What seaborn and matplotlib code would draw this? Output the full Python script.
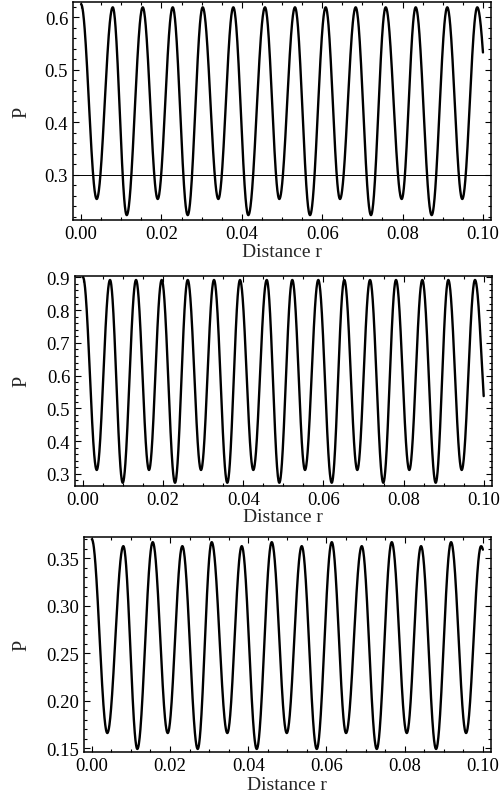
import numpy as np
import pandas as pd
import matplotlib
matplotlib.use("Agg")
import matplotlib.pyplot as plt
from matplotlib.ticker import MultipleLocator, FormatStrFormatter
import seaborn as sns

# ---------------- data (extrema of each curve) ----------------
# Panel 1
p1_peak_x = [0.0, 0.00789, 0.01535, 0.02281, 0.03027, 0.03789, 0.04577, 0.05323,
             0.06087, 0.06833, 0.07580, 0.08326, 0.09112, 0.09858]
p1_peak_y = [0.625] + [0.619] * 13
p1_trough_x = [0.00390, 0.01137, 0.01908, 0.02654, 0.03416, 0.04162, 0.04933,
               0.05697, 0.06443, 0.07214, 0.07978, 0.08724, 0.09485]
p1_trough_y = [0.2537, 0.223, 0.2537, 0.223, 0.2537, 0.223, 0.2537,
               0.223, 0.2537, 0.223, 0.2537, 0.223, 0.2537]
p1_end = (0.1, 0.533)

# Panel 2
p2_peak_x = [0.0, 0.00674, 0.01323, 0.01964, 0.02613, 0.03269, 0.03918, 0.04585,
             0.05223, 0.05872, 0.06521, 0.07163, 0.07811, 0.08468, 0.09117, 0.09783]
p2_peak_y = [0.900] + [0.892] * 15
p2_trough_x = [0.00342, 0.00991, 0.01647, 0.02296, 0.02945, 0.03601, 0.04250,
               0.04899, 0.05540, 0.06207, 0.06845, 0.07494, 0.08143, 0.08802, 0.09451]
p2_trough_y = [0.312, 0.273, 0.312, 0.273, 0.312, 0.273, 0.312,
               0.273, 0.312, 0.273, 0.312, 0.273, 0.312, 0.273, 0.312]
p2_end = (0.1, 0.5375)

# Panel 3
p3_peak_x = [0.0, 0.00806, 0.01558, 0.02315, 0.03066, 0.03834, 0.04601, 0.05368,
             0.06136, 0.06903, 0.07670, 0.08419, 0.09187, 0.09954]
p3_peak_y = [0.370, 0.3627, 0.3669, 0.3627, 0.3669, 0.3627, 0.3669, 0.3627,
             0.3669, 0.3627, 0.3669, 0.3627, 0.3669, 0.3627]
p3_trough_x = [0.00396, 0.01164, 0.01941, 0.02708, 0.03465, 0.04217, 0.04985,
               0.05752, 0.06501, 0.07286, 0.08054, 0.08803, 0.09570]
p3_trough_y = [0.1658, 0.149, 0.1658, 0.149, 0.1658, 0.149, 0.1658,
               0.149, 0.1658, 0.149, 0.1658, 0.149, 0.1658]
p3_end = (0.1, 0.359)

x_ticks_major = 0.02
x_ticks_minor = 0.005


def build_curve(px, py, tx, ty, end):
    kx = np.array(list(px) + list(tx))
    ky = np.array(list(py) + list(ty))
    order = np.argsort(kx)
    kx, ky = kx[order], ky[order]
    half = np.median(np.diff(kx))
    xs, ys = [], []
    for i in range(len(kx) - 1):
        t = np.linspace(0, 1, 60, endpoint=False)
        xs.append(kx[i] + (kx[i + 1] - kx[i]) * t)
        ys.append(ky[i] + (ky[i + 1] - ky[i]) * (1 - np.cos(np.pi * t)) / 2)
    # last partial segment to the end point
    s_end = min((end[0] - kx[-1]) / half, 1.0)
    t = np.linspace(0, 1, 40)
    f = (1 - np.cos(np.pi * s_end * t)) / (1 - np.cos(np.pi * s_end))
    xs.append(kx[-1] + (end[0] - kx[-1]) * t)
    ys.append(ky[-1] + (end[1] - ky[-1]) * f)
    return pd.DataFrame({"r": np.concatenate(xs), "P": np.concatenate(ys)})


sns.set_style("ticks")
plt.rcParams["font.family"] = ["Liberation Serif", "DejaVu Serif"]

fig = plt.figure(figsize=(5.02, 8.03), dpi=100)

panels = [
    dict(rect=[0.1454, 0.7248, 0.8327, 0.2711], data=(p1_peak_x, p1_peak_y, p1_trough_x, p1_trough_y, p1_end),
         ylim=(0.2137, 0.6286), ymaj=0.1, ymin=0.02, fmt="%.1f", ylab_x=-0.1227, xlab_y=-0.145, hline=0.3),
    dict(rect=[0.1494, 0.3939, 0.8301, 0.2615], data=(p2_peak_x, p2_peak_y, p2_trough_x, p2_trough_y, p2_end),
         ylim=(0.264, 0.905), ymaj=0.1, ymin=0.02, fmt="%.1f", ylab_x=-0.128, xlab_y=-0.145, hline=None),
    dict(rect=[0.1673, 0.0619, 0.8102, 0.2677], data=(p3_peak_x, p3_peak_y, p3_trough_x, p3_trough_y, p3_end),
         ylim=(0.1455, 0.372), ymaj=0.05, ymin=0.01, fmt="%.2f", ylab_x=-0.153, xlab_y=-0.152, hline=None),
]

for p in panels:
    ax = fig.add_axes(p["rect"])
    df = build_curve(*p["data"])
    sns.lineplot(data=df, x="r", y="P", ax=ax, color="black", linewidth=1.7,
                 estimator=None, sort=False)
    if p["hline"] is not None:
        ax.axhline(p["hline"], color="black", linewidth=0.7, zorder=1)
    ax.set_xlim(-0.002, 0.102)
    ax.set_ylim(*p["ylim"])
    ax.xaxis.set_major_locator(MultipleLocator(x_ticks_major))
    ax.xaxis.set_minor_locator(MultipleLocator(x_ticks_minor))
    ax.yaxis.set_major_locator(MultipleLocator(p["ymaj"]))
    ax.yaxis.set_minor_locator(MultipleLocator(p["ymin"]))
    ax.xaxis.set_major_formatter(FormatStrFormatter("%.2f"))
    ax.yaxis.set_major_formatter(FormatStrFormatter(p["fmt"]))
    ax.tick_params(which="both", direction="in", top=True, right=True, width=0.8,
                   labelsize=13.5, colors="black")
    ax.tick_params(which="major", length=4, pad=3.5)
    ax.tick_params(which="minor", length=2.5)
    for s in ax.spines.values():
        s.set_linewidth(1.1)
        s.set_color("black")
    ax.set_xlabel("Distance r", fontsize=14)
    ax.set_ylabel("P", fontsize=14.5)
    ax.xaxis.set_label_coords(0.5, p["xlab_y"])
    ax.xaxis.label.set_va("center")
    ax.yaxis.set_label_coords(p["ylab_x"], 0.5)
    ax.yaxis.label.set_va("center")
    ax.yaxis.label.set_ha("center")

fig.savefig("out.png", dpi=100)
